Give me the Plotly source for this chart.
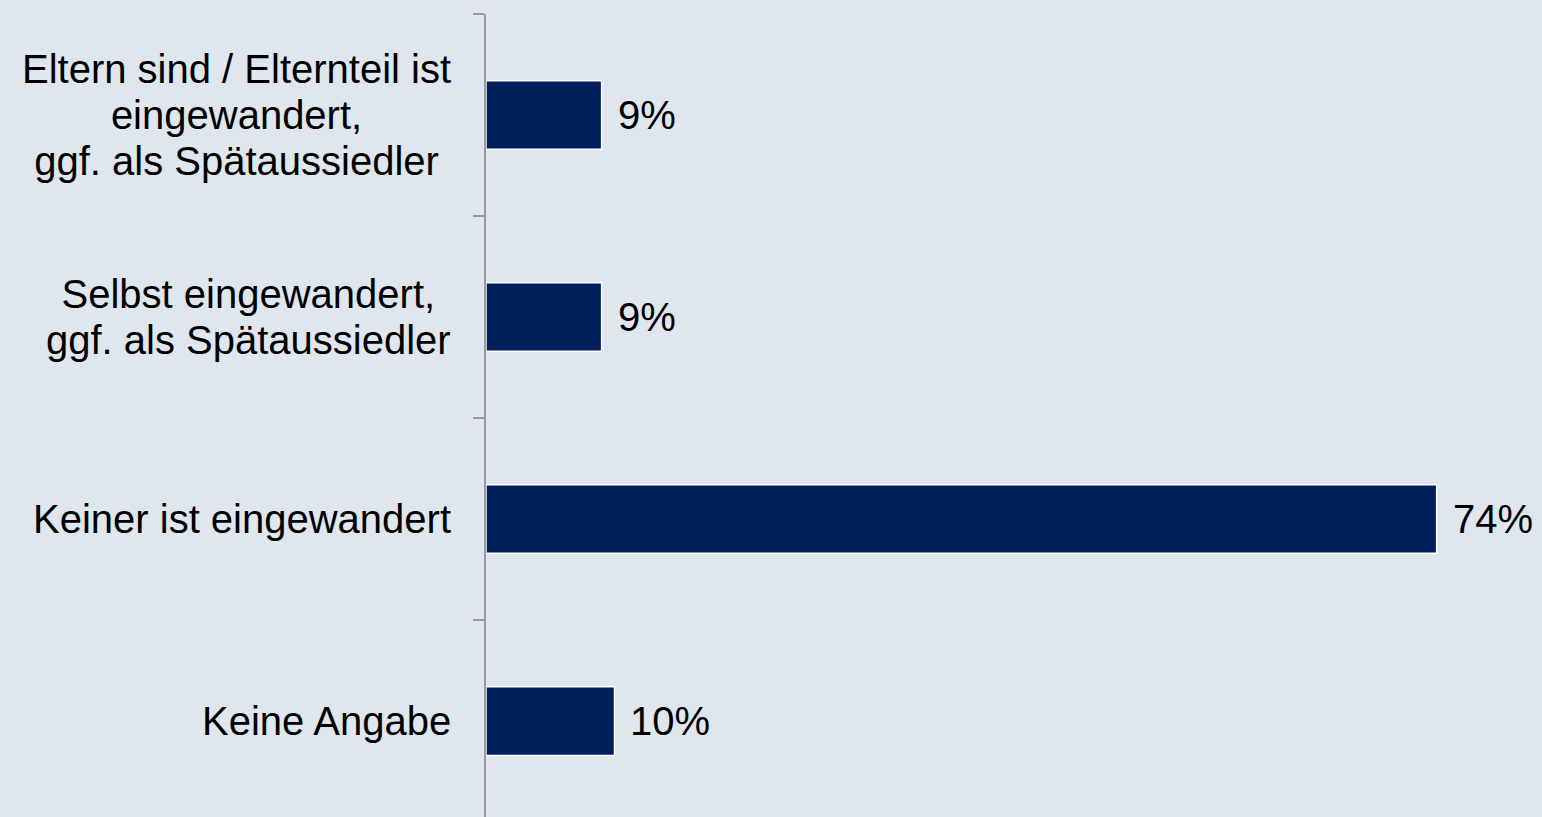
import plotly.graph_objects as go

categories = [
    "Eltern sind / Elternteil ist<br>eingewandert,<br>ggf. als Spätaussiedler",
    "Selbst eingewandert,<br>ggf. als Spätaussiedler",
    "Keiner ist eingewandert",
    "Keine Angabe",
]
values = [9, 9, 74, 10]
value_labels = ["9%", "9%", "74%", "10%"]

bg = "#dfe6ee"
bar_color = "#001f5c"
font = dict(family="Liberation Sans, Arial, sans-serif", size=40, color="#000000")

fig = go.Figure(
    go.Bar(
        x=values,
        y=categories,
        orientation="h",
        width=0.34,
        marker=dict(color=bar_color, line=dict(color="#ffffff", width=1.5)),
        hoverinfo="x",
    )
)

# value labels right of each bar
for cat, val, lab in zip(categories, values, value_labels):
    fig.add_annotation(
        x=val, y=cat, text=lab, showarrow=False,
        xanchor="left", xshift=14, font=font,
    )

# category labels: lines centred, block right next to the axis.
# annotation font size sets the line spacing (1.3em = 46px), spans set the glyph size
for cat in categories:
    text = "<br>".join(
        '<span style="font-size:40px">%s</span>' % ln for ln in cat.split("<br>")
    )
    fig.add_annotation(
        x=0, xref="paper", y=cat, text=text, showarrow=False,
        xanchor="right", xshift=-33, align="center",
        font=dict(family=font["family"], size=35.4, color="#000000"),
    )

fig.update_layout(
    width=1542, height=817,
    paper_bgcolor=bg, plot_bgcolor=bg,
    margin=dict(l=486, r=0, t=14, b=0),
    showlegend=False,
    font=font,
)
fig.update_xaxes(
    range=[0, 82.2], showgrid=False, zeroline=False,
    showticklabels=False, showline=False, ticks="",
)
fig.update_yaxes(
    type="category", categoryorder="array", categoryarray=categories,
    range=[3.475, -0.5], showgrid=False, zeroline=False,
    showline=True, linecolor="#9a9a9a", linewidth=2,
    ticks="outside", tickson="boundaries", ticklen=11, tickwidth=1.5,
    tickcolor="#9a9a9a", showticklabels=False,
)

fig.write_html(
    "out.html",
    config={"displayModeBar": False},
    post_script="document.body.style.margin='0';document.body.style.background='%s';" % bg,
)
